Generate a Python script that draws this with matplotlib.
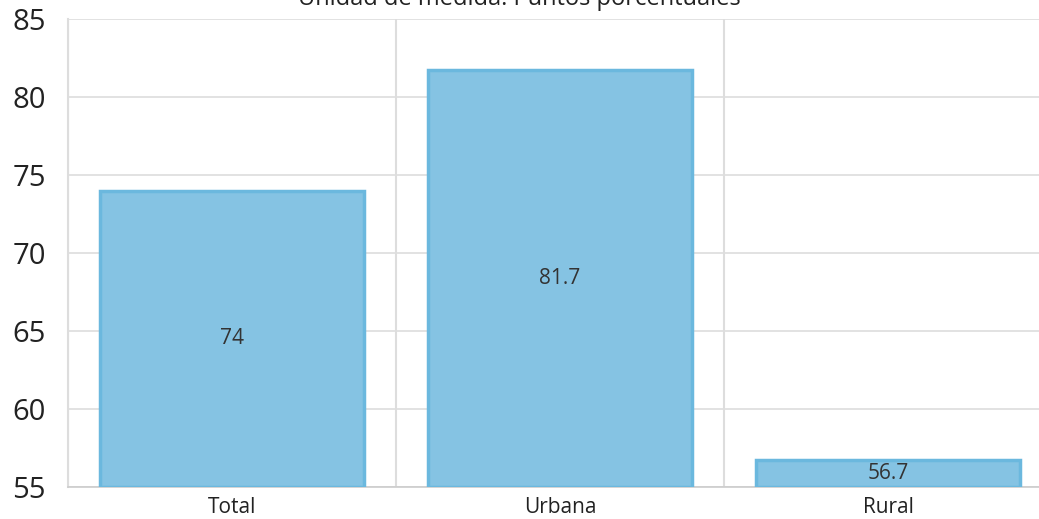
import matplotlib
matplotlib.use("Agg")
import matplotlib.pyplot as plt

categories = ["Total", "Urbana", "Rural"]
values = [74, 81.7, 56.7]
value_labels = ["74", "81.7", "56.7"]
yticks = [55, 60, 65, 70, 75, 80, 85]

plt.rcParams["font.family"] = ["Open Sans", "DejaVu Sans"]

fig = plt.figure(figsize=(10.39, 5.19), dpi=100)
# axes spans a little past the right edge of the canvas
ax = fig.add_axes([68 / 1039, (519 - 487) / 519, (1052 - 68) / 1039, (487 - 19) / 519])

x = list(range(len(categories)))
ax.bar(x, [v - 55 for v in values], bottom=55, width=0.805,
       color="#85c3e3", edgecolor="#6bb8de", linewidth=2.5, zorder=3)

for xi, v, lab in zip(x, values, value_labels):
    ax.text(xi, (55 + v) / 2, lab, ha="center", va="center",
            fontsize=15, color="#333333", zorder=4)

ax.set_xlim(-0.5, len(categories) - 0.5)
ax.set_ylim(55, 85)
ax.set_yticks(yticks)
ax.set_yticklabels([str(t) for t in yticks], fontsize=21, color="#222222")
ax.set_xticks(x)
ax.set_xticklabels(categories, fontsize=15, color="#222222")
ax.tick_params(axis="both", length=0)
ax.tick_params(axis="y", pad=16)
ax.tick_params(axis="x", pad=7)

ax.grid(axis="y", color="#dddddd", linewidth=1.2, zorder=0)
for b in [-0.5, 0.5, 1.5, 2.5]:
    ax.axvline(b, color="#dddddd", linewidth=1.5, zorder=0)

for s in ["top", "right"]:
    ax.spines[s].set_visible(False)
ax.spines["left"].set_color("#dddddd")
ax.spines["bottom"].set_color("#cccccc")
ax.spines["left"].set_linewidth(1.5)
ax.spines["bottom"].set_linewidth(1.2)

fig.text(0.5, 1.0 + 1 / 519, "Unidad de medida: Puntos porcentuales",
         ha="center", va="center", fontsize=17, color="#222222")

fig.savefig("out.png", dpi=100)
